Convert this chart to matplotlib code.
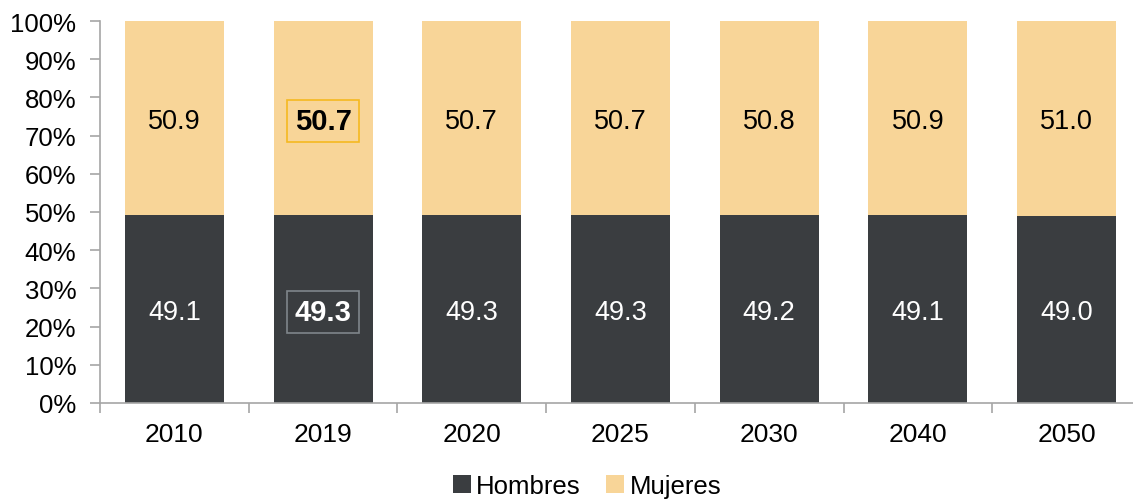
import matplotlib
matplotlib.use("Agg")
import matplotlib.pyplot as plt
import numpy as np

plt.rcParams['font.family'] = ['Liberation Sans', 'DejaVu Sans']

years = ["2010", "2019", "2020", "2025", "2030", "2040", "2050"]
hombres = [49.1, 49.3, 49.3, 49.3, 49.2, 49.1, 49.0]
mujeres = [50.9, 50.7, 50.7, 50.7, 50.8, 50.9, 51.0]
highlight = "2019"

c_h = "#3a3d40"
c_m = "#f8d598"
grey = "#a6a6a6"

fig = plt.figure(figsize=(11.33, 5.02), dpi=100)
ax = fig.add_axes([100/1133, 98/502, 1041/1133, 382/502])

x = np.arange(len(years))
w = 0.666
ax.bar(x, hombres, w, color=c_h, label="Hombres")
ax.bar(x, mujeres, w, bottom=hombres, color=c_m, label="Mujeres")

for i, yr in enumerate(years):
    h, m = hombres[i], mujeres[i]
    if yr == highlight:
        ax.text(i, h/2, f"{h:.1f}", ha="center", va="center_baseline", fontsize=21,
                color="white", fontweight="bold",
                bbox=dict(boxstyle="square,pad=0.25", fc="none", ec="#7f868b", lw=1.2))
        ax.text(i, h + m/2, f"{m:.1f}", ha="center", va="center_baseline", fontsize=21,
                color="black", fontweight="bold",
                bbox=dict(boxstyle="square,pad=0.25", fc="none", ec="#f5b921", lw=1.2))
    else:
        ax.text(i, h/2, f"{h:.1f}", ha="center", va="center_baseline", fontsize=19.5, color="white")
        ax.text(i, h + m/2, f"{m:.1f}", ha="center", va="center_baseline", fontsize=19.5, color="black")

ax.set_xlim(-0.5, len(years) - 0.5)
ax.set_ylim(0, 100)
ax.set_yticks(np.arange(0, 101, 10))
ax.set_yticklabels([f"{v}%" for v in range(0, 101, 10)])
ax.set_xticks(x)
ax.set_xticklabels(years)
ax.set_xticks(np.arange(-0.5, len(years), 1), minor=True)
ax.tick_params(axis="x", which="major", length=0, labelsize=19, pad=14)
ax.tick_params(axis="x", which="minor", length=7, color=grey, width=1.2)
ax.tick_params(axis="y", length=7, color=grey, width=1.2, labelsize=18.5, pad=10)

for s in ["top", "right"]:
    ax.spines[s].set_visible(False)
for s in ["left", "bottom"]:
    ax.spines[s].set_color(grey)
    ax.spines[s].set_linewidth(1.2)

fig.legend(loc="lower center", bbox_to_anchor=(587/1133, -0.04), ncol=2, frameon=False,
           fontsize=18.5, handlelength=0.7, handleheight=0.7, handletextpad=0.2,
           columnspacing=1.0)

fig.savefig("out.png", dpi=100)
